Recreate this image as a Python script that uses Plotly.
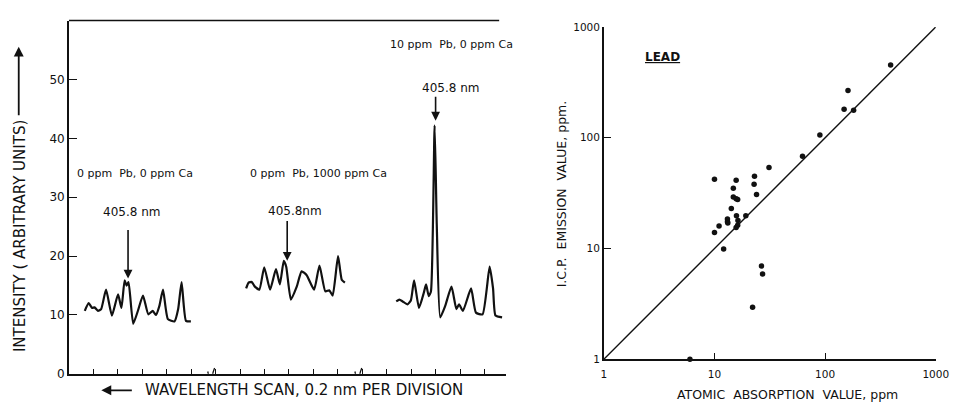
import plotly.graph_objects as go

# ---------------------------------------------------------------
# Left panel: emission scans around the Pb 405.8 nm line
# x in scan divisions (0.2 nm each), y in arbitrary intensity units
# ---------------------------------------------------------------
SCAN_BLANK_X = [0.65, 0.81, 0.95, 1.05, 1.19, 1.32, 1.52, 1.76, 2.01, 2.15,
                2.28, 2.36, 2.44, 2.63, 2.83, 3.03, 3.25, 3.43, 3.56, 3.70,
                3.85, 4.05, 4.32, 4.47, 4.61, 4.79, 4.99]
SCAN_BLANK_Y = [10.7, 12.0, 11.2, 11.3, 10.7, 11.0, 14.3, 9.9, 13.5, 11.2,
                15.9, 15.0, 15.6, 8.5, 10.8, 13.3, 10.1, 10.7, 10.0, 11.5,
                14.3, 9.3, 8.9, 11.0, 15.6, 9.0, 8.9]

SCAN_CA_X = [7.25, 7.35, 7.48, 7.59, 7.79, 7.99, 8.23, 8.47, 8.63, 8.79,
             8.89, 9.08, 9.32, 9.52, 9.72, 10.03, 10.25, 10.49, 10.65, 10.79,
             11.01, 11.16, 11.29]
SCAN_CA_Y = [14.5, 15.5, 15.6, 14.9, 14.3, 18.1, 14.3, 17.8, 15.2, 19.2,
             18.2, 12.6, 14.8, 17.4, 16.8, 14.3, 18.4, 14.0, 14.2, 13.3,
             20.0, 16.0, 15.5]

SCAN_PB_X = [13.39, 13.52, 13.65, 13.85, 13.99, 14.12, 14.32, 14.52, 14.61, 14.72,
             14.81, 14.96, 15.05, 15.19, 15.39, 15.65, 15.85, 15.96, 16.12, 16.45,
             16.65, 16.92, 17.21, 17.35, 17.45, 17.72]
SCAN_PB_Y = [12.3, 12.6, 12.3, 11.8, 12.5, 15.9, 11.2, 13.8, 15.2, 13.2,
             14.0, 42.2, 25.0, 9.6, 11.5, 14.8, 11.0, 11.8, 10.7, 14.5,
             10.4, 10.1, 18.2, 14.5, 9.9, 9.6]

SCAN_LABELS = ["0 ppm\u00a0 Pb, 0 ppm Ca",
               "0 ppm\u00a0 Pb, 1000 ppm Ca",
               "10 ppm\u00a0 Pb, 0 ppm Ca"]
SCAN_LABEL_X = [0.24, 7.32, 13.05]
SCAN_LABEL_Y = [34.0, 34.0, 55.9]

LINE_TEXT = ["405.8 nm", "405.8nm", "405.8 nm"]
LINE_TEXT_X = [2.55, 9.23, 15.59]
LINE_TEXT_Y = [27.5, 27.7, 48.5]
LINE_ARROW_X = [2.42, 8.93, 15.0]
LINE_ARROW_TOP = [24.7, 26.2, 47.3]
LINE_ARROW_TIP = [16.2, 19.2, 43.0]

DIVISION_TICKS = list(range(1, 18))
AXIS_BREAKS = [5.8, 11.82]
INTENSITY_TICKS = [0, 10, 20, 30, 40, 50]

# ---------------------------------------------------------------
# Right panel: ICP emission vs atomic absorption for lead (ppm)
# ---------------------------------------------------------------
AA_PPM = [391, 161, 148.5, 181, 89.7, 62.5, 31.1, 10.0, 15.7, 23.0,
          22.8, 14.8, 24.0, 14.8, 15.7, 16.2, 14.2, 15.8, 19.2, 13.1,
          13.1, 13.2, 16.3, 16.2, 15.7, 11.0, 10.0, 12.1, 26.6, 27.2,
          22.1, 6.0]
ICP_PPM = [454, 267, 181, 177, 106, 68, 54, 42.3, 41.4, 44.9,
           38.0, 35.0, 30.8, 29.2, 28.1, 27.7, 23.0, 19.8, 19.8, 18.5,
           17.5, 17.0, 17.9, 16.2, 15.5, 16.0, 14.0, 9.9, 6.95, 5.9,
           2.95, 1.0]
PARITY = [1, 1000]
LOG_TICKS = [1, 10, 100, 1000]
LOG_TICK_TEXT = ["1", "10", "100", "1000"]

INK = "#111111"
FONT = "DejaVu Sans"
W, H = 963, 407


def px(x):
    return x / W


def py(y):
    return 1 - y / H


fig = go.Figure()

for xs, ys in [(SCAN_BLANK_X, SCAN_BLANK_Y), (SCAN_CA_X, SCAN_CA_Y), (SCAN_PB_X, SCAN_PB_Y)]:
    fig.add_trace(go.Scatter(
        x=xs, y=ys, mode="lines", xaxis="x", yaxis="y",
        line=dict(color=INK, width=2.2, shape="spline", smoothing=0.5),
        showlegend=False, hoverinfo="skip"))

# small break marks on the scan axis
for b in AXIS_BREAKS:
    fig.add_trace(go.Scatter(
        x=[b - 0.12, b, b + 0.1, b + 0.16],
        y=[0.4, -1.8, 0.3, 1.0], mode="lines", xaxis="x", yaxis="y",
        line=dict(color=INK, width=1.3), cliponaxis=False,
        showlegend=False, hoverinfo="skip"))

fig.add_trace(go.Scatter(
    x=PARITY, y=PARITY, mode="lines", xaxis="x2", yaxis="y2",
    line=dict(color=INK, width=1.4), showlegend=False, hoverinfo="skip",
    cliponaxis=False))
fig.add_trace(go.Scatter(
    x=AA_PPM, y=ICP_PPM, mode="markers", xaxis="x2", yaxis="y2",
    marker=dict(color=INK, size=5.5), showlegend=False, cliponaxis=False))

annotations = []
for t, x, y in zip(SCAN_LABELS, SCAN_LABEL_X, SCAN_LABEL_Y):
    annotations.append(dict(text=t, x=x, y=y, xref="x", yref="y", showarrow=False,
                            xanchor="left", yanchor="middle",
                            font=dict(family=FONT, size=11, color=INK)))
for t, x, y in zip(LINE_TEXT, LINE_TEXT_X, LINE_TEXT_Y):
    annotations.append(dict(text=t, x=x, y=y, xref="x", yref="y", showarrow=False,
                            xanchor="center", yanchor="middle",
                            font=dict(family=FONT, size=12, color=INK)))
for x, y0, y1 in zip(LINE_ARROW_X, LINE_ARROW_TOP, LINE_ARROW_TIP):
    annotations.append(dict(text="", x=x, y=y1, ax=x, ay=y0, xref="x", yref="y",
                            axref="x", ayref="y", showarrow=True, arrowhead=2,
                            arrowsize=1.1, arrowwidth=1.6, arrowcolor=INK))

# axis titles of the scan panel
annotations.append(dict(text="INTENSITY ( ARBITRARY UNITS)", x=px(18), y=py(238),
                        xref="paper", yref="paper", showarrow=False, textangle=-90,
                        xanchor="center", yanchor="middle",
                        font=dict(family=FONT, size=15, color=INK)))
annotations.append(dict(text="", x=px(16), y=py(42), xref="paper", yref="paper",
                        ax=0, ay=70, showarrow=True, arrowhead=2, arrowsize=1.1,
                        arrowwidth=1.8, arrowcolor=INK))
annotations.append(dict(text="WAVELENGTH SCAN, 0.2 nm PER DIVISION", x=px(306), y=py(397),
                        xref="paper", yref="paper", showarrow=False,
                        xanchor="center", yanchor="middle",
                        font=dict(family=FONT, size=15, color=INK)))
annotations.append(dict(text="", x=px(100), y=py(397), xref="paper", yref="paper",
                        ax=32, ay=0, showarrow=True, arrowhead=2, arrowsize=1.1,
                        arrowwidth=1.8, arrowcolor=INK))

# titles of the comparison panel
annotations.append(dict(text="I.C.P.\u00a0 EMISSION\u00a0 VALUE, ppm.", x=px(568), y=py(194),
                        xref="paper", yref="paper", showarrow=False, textangle=-90,
                        xanchor="center", yanchor="middle",
                        font=dict(family=FONT, size=12.5, color=INK)))
annotations.append(dict(text="ATOMIC\u00a0 ABSORPTION\u00a0 VALUE, ppm", x=px(798), y=py(401),
                        xref="paper", yref="paper", showarrow=False,
                        xanchor="center", yanchor="middle",
                        font=dict(family=FONT, size=12.5, color=INK)))
annotations.append(dict(text="<b><u>LEAD</u></b>", x=px(671), y=py(53),
                        xref="paper", yref="paper", showarrow=False,
                        xanchor="center", yanchor="middle",
                        font=dict(family=FONT, size=12, color=INK)))

axis_common = dict(showgrid=False, zeroline=False, showline=True, linecolor=INK,
                   linewidth=1.5, ticks="inside", tickcolor=INK, tickwidth=1.3)

fig.update_layout(
    width=W, height=H,
    margin=dict(l=0, r=0, t=0, b=0),
    paper_bgcolor="white", plot_bgcolor="white",
    font=dict(family=FONT, color=INK),
    xaxis=dict(domain=[px(67), px(512)], range=[0, 17.9], anchor="y",
               tickvals=DIVISION_TICKS, ticklen=5, showticklabels=False,
               **axis_common),
    yaxis=dict(domain=[py(380), py(15)], range=[0, 60], anchor="x",
               tickvals=INTENSITY_TICKS, ticklen=8,
               tickfont=dict(family=FONT, size=12, color=INK), **axis_common),
    xaxis2=dict(domain=[px(611), px(948.5)], type="log", range=[0, 3], anchor="y2",
                tickvals=LOG_TICKS, ticktext=LOG_TICK_TEXT, ticklen=7,
                ticklabelstandoff=4,
                tickfont=dict(family=FONT, size=10.5, color=INK), **axis_common),
    yaxis2=dict(domain=[py(365), py(21.7)], type="log", range=[0, 3], anchor="x2",
                tickvals=LOG_TICKS, ticktext=LOG_TICK_TEXT, ticklen=7,
                tickfont=dict(family=FONT, size=10.5, color=INK), **axis_common),
    annotations=annotations,
    shapes=[dict(type="line", xref="x", yref="paper", x0=0, x1=17.6,
                 y0=py(15), y1=py(15), line=dict(color=INK, width=1.5))],
)

fig.write_html("out.html")
